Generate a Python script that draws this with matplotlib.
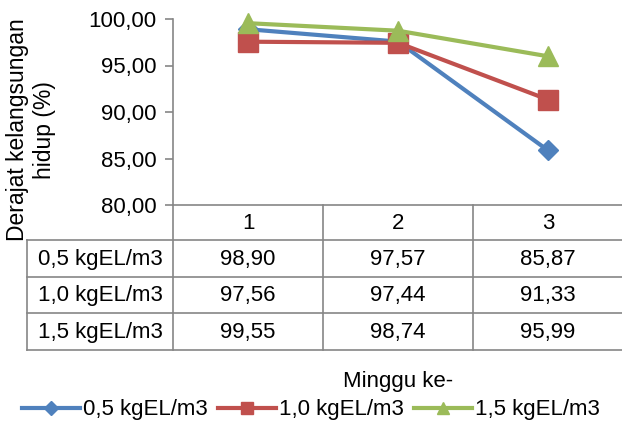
import numpy as np
import matplotlib
matplotlib.use('Agg')
import matplotlib.pyplot as plt
from matplotlib.lines import Line2D

plt.rcParams['font.family'] = ['Liberation Sans', 'DejaVu Sans']

minggu = ['1', '2', '3']
seri = ['0,5 kgEL/m3', '1,0 kgEL/m3', '1,5 kgEL/m3']
sr_05 = [98.90, 97.57, 85.87]
sr_10 = [97.56, 97.44, 91.33]
sr_15 = [99.55, 98.74, 95.99]
yticks = [80, 85, 90, 95, 100]

warna = ['#4F81BD', '#C0504D', '#9BBB59']
marker = ['D', 's', '^']
msize = [10.5, 14, 14]
abu = '#868686'
fs = 16

W, H = 622, 426
fig = plt.figure(figsize=(W / 100, H / 100), dpi=100)

def fx(px):
    return px / W

def fy(py):
    return 1 - py / H

def koma(v):
    return ('%.2f' % v).replace('.', ',')

# area plot
x0, x1, ytop, ybot = 173, 623, 19, 205
ax = fig.add_axes([fx(x0), fy(ybot), fx(x1) - fx(x0), fy(ytop) - fy(ybot)])
x = np.arange(1, len(minggu) + 1)
data = [sr_05, sr_10, sr_15]
for i in range(3):
    ax.plot(x, data[i], color=warna[i], lw=3, marker=marker[i], ms=msize[i],
            label=seri[i], clip_on=False, zorder=3 + i)
ax.set_xlim(0.5, len(minggu) + 0.5)
ax.set_ylim(80, 100)
ax.set_yticks(yticks)
ax.set_yticklabels([koma(v) for v in yticks], fontsize=fs)
ax.set_xticks([])
for s in ['top', 'right']:
    ax.spines[s].set_visible(False)
for s in ['left', 'bottom']:
    ax.spines[s].set_color(abu)
    ax.spines[s].set_linewidth(1.2)
ax.tick_params(axis='y', direction='out', length=6, width=1.2, color=abu, pad=6)

# tabel data
tl, tr = 27, 622
hdr = 240
rows = [240, 277, 313, 350]
col_lines = [x0 + 150 * k for k in range(len(minggu) + 1)]
garis = []
for c in col_lines:
    garis.append(([c, c], [ybot, rows[-1]]))
garis.append(([tl, tl], [rows[0], rows[-1]]))
for r in rows:
    garis.append(([tl, tr], [r, r]))
for gx, gy in garis:
    fig.add_artist(Line2D([fx(v) for v in gx], [fy(v) for v in gy],
                          color=abu, lw=1.2))

for k, m in enumerate(minggu):
    fig.text(fx(x0 + 150 * k + 75), fy((ybot + hdr) / 2 + 1), m, fontsize=fs,
             ha='center', va='center')
for i in range(3):
    yc = (rows[i] + rows[i + 1]) / 2 + 1
    fig.text(fx((tl + x0) / 2), fy(yc), seri[i], fontsize=fs,
             ha='center', va='center')
    for k in range(len(minggu)):
        fig.text(fx(x0 + 150 * k + 75), fy(yc), koma(data[i][k]), fontsize=fs,
                 ha='center', va='center')

fig.text(fx(31), fy(130), 'Derajat kelangsungan\nhidup (%)', fontsize=16.5,
         rotation=90, ha='center', va='center', multialignment='center',
         linespacing=1.2)
fig.text(fx(398), fy(382), 'Minggu ke-', fontsize=fs, ha='center', va='center')

h, l = ax.get_legend_handles_labels()
fig.legend(h, l, loc='center', bbox_to_anchor=(fx(311), fy(410)), ncol=3,
           frameon=False, fontsize=fs, handlelength=2.6, handletextpad=0.15,
           columnspacing=0.45, borderpad=0, markerscale=0.65)

fig.savefig('out.png', dpi=100)
